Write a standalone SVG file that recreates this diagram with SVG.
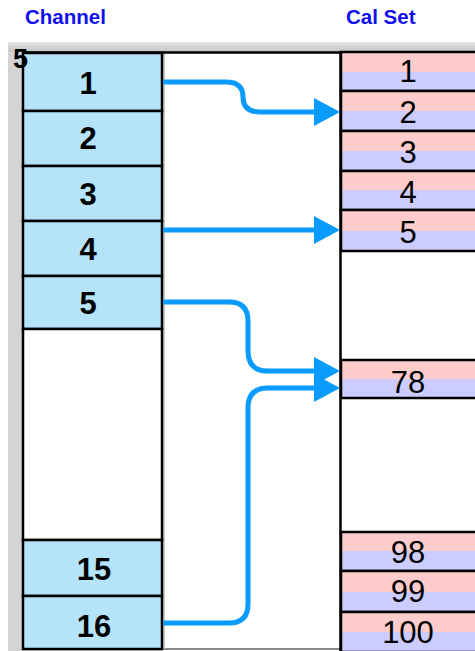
<svg xmlns="http://www.w3.org/2000/svg" width="475" height="651" viewBox="0 0 475 651">
<style>
.hd{font-family:"Liberation Sans",Arial,sans-serif;font-weight:bold;font-size:20.5px;fill:#1010ee}
.ch{fill:#b5e4fa;stroke:#000;stroke-width:2.5}
.ct{font-family:"Liberation Sans",Arial,sans-serif;font-weight:bold;font-size:31px;fill:#000;text-anchor:middle}
.cs{fill:url(#pl);stroke:#000;stroke-width:2.5}
.st{font-family:"Liberation Sans",Arial,sans-serif;font-size:31px;fill:#000;text-anchor:middle}
.cn{fill:none;stroke:#0a9bff;stroke-width:5;marker-end:url(#ah)}
</style>
<defs>
<linearGradient id="pl" x1="0" y1="0" x2="0" y2="1">
<stop offset="0" stop-color="#ffcccc"/><stop offset="0.5" stop-color="#ffcccc"/>
<stop offset="0.5" stop-color="#ccccff"/><stop offset="1" stop-color="#ccccff"/>
</linearGradient>
<linearGradient id="gt" x1="0" y1="0" x2="0" y2="1">
<stop offset="0" stop-color="#e4e4e4"/><stop offset="1" stop-color="#c4c4c4"/>
</linearGradient>
<marker id="ah" markerUnits="userSpaceOnUse" markerWidth="26" markerHeight="28" refX="16" refY="14" orient="auto">
<path d="M0,0 L26,14 L0,28 Z" fill="#0a9bff"/>
</marker>
</defs>
<rect x="0" y="0" width="475" height="651" fill="#fff"/>
<text class="hd" x="25" y="24">Channel</text>
<text class="hd" x="346" y="24">Cal Set</text>
<rect x="8" y="42" width="467" height="609" fill="#d4d4d4"/>
<rect x="8" y="42" width="467" height="10" fill="url(#gt)"/>
<rect x="162" y="52" width="313" height="599" fill="#fff"/>
<line x1="162" y1="649" x2="341" y2="649" stroke="#888" stroke-width="2"/>
<line x1="164" y1="53" x2="164" y2="649" stroke="#bbb" stroke-width="1.5"/>
<line x1="23" y1="52.5" x2="475" y2="52.5" stroke="#000" stroke-width="2.5"/>
<line x1="340.5" y1="52" x2="340.5" y2="651" stroke="#000" stroke-width="2.5"/>
<g id="ch1"><rect class="ch" x="23" y="53" width="139" height="58"/><text class="ct" x="88" y="94">1</text></g>
<g id="ch2"><rect class="ch" x="23" y="111" width="139" height="55"/><text class="ct" x="88" y="149">2</text></g>
<g id="ch3"><rect class="ch" x="23" y="166" width="139" height="55"/><text class="ct" x="88" y="205">3</text></g>
<g id="ch4"><rect class="ch" x="23" y="221" width="139" height="55"/><text class="ct" x="88" y="260">4</text></g>
<g id="ch5"><rect class="ch" x="23" y="276" width="139" height="53"/><text class="ct" x="88" y="314">5</text></g>
<g id="chgap"><rect x="23" y="329" width="139" height="211" fill="#fff" stroke="#000" stroke-width="2.5"/></g>
<g id="ch15"><rect class="ch" x="23" y="540" width="139" height="56"/><text class="ct" x="94" y="580">15</text></g>
<g id="ch16"><rect class="ch" x="23" y="596" width="139" height="53"/><text class="ct" x="94" y="637">16</text></g>
<g id="cs1"><rect class="cs" x="341" y="52" width="140" height="39"/><text class="st" x="408" y="82">1</text></g>
<g id="cs2"><rect class="cs" x="341" y="91" width="140" height="40"/><text class="st" x="408" y="123">2</text></g>
<g id="cs3"><rect class="cs" x="341" y="131" width="140" height="40"/><text class="st" x="408" y="163">3</text></g>
<g id="cs4"><rect class="cs" x="341" y="171" width="140" height="39"/><text class="st" x="408" y="203">4</text></g>
<g id="cs5"><rect class="cs" x="341" y="210" width="140" height="41"/><text class="st" x="408" y="243">5</text></g>
<g id="cs78"><rect class="cs" x="341" y="360" width="140" height="38"/><text class="st" x="408" y="393">78</text></g>
<g id="cs98"><rect class="cs" x="341" y="532" width="140" height="39"/><text class="st" x="408" y="563">98</text></g>
<g id="cs99"><rect class="cs" x="341" y="571" width="140" height="41"/><text class="st" x="408" y="602">99</text></g>
<g id="cs100"><rect class="cs" x="341" y="612" width="140" height="40"/><text class="st" x="408" y="643">100</text></g>
<text x="13" y="68" font-family="Liberation Sans,Arial,sans-serif" font-weight="bold" font-size="27" fill="#000">5</text>
<g id="connectors">
<path class="cn" d="M163,82 H226 Q243,82 243,97 Q243,112 260,112 H330"/>
<path class="cn" d="M163,230 H330"/>
<path class="cn" d="M163,302 H229 Q248,302 248,321 V351 Q248,371 268,371 H330"/>
<path class="cn" d="M163,623 H229 Q248,623 248,604 V408 Q248,388 268,388 H330"/>
</g>
</svg>
